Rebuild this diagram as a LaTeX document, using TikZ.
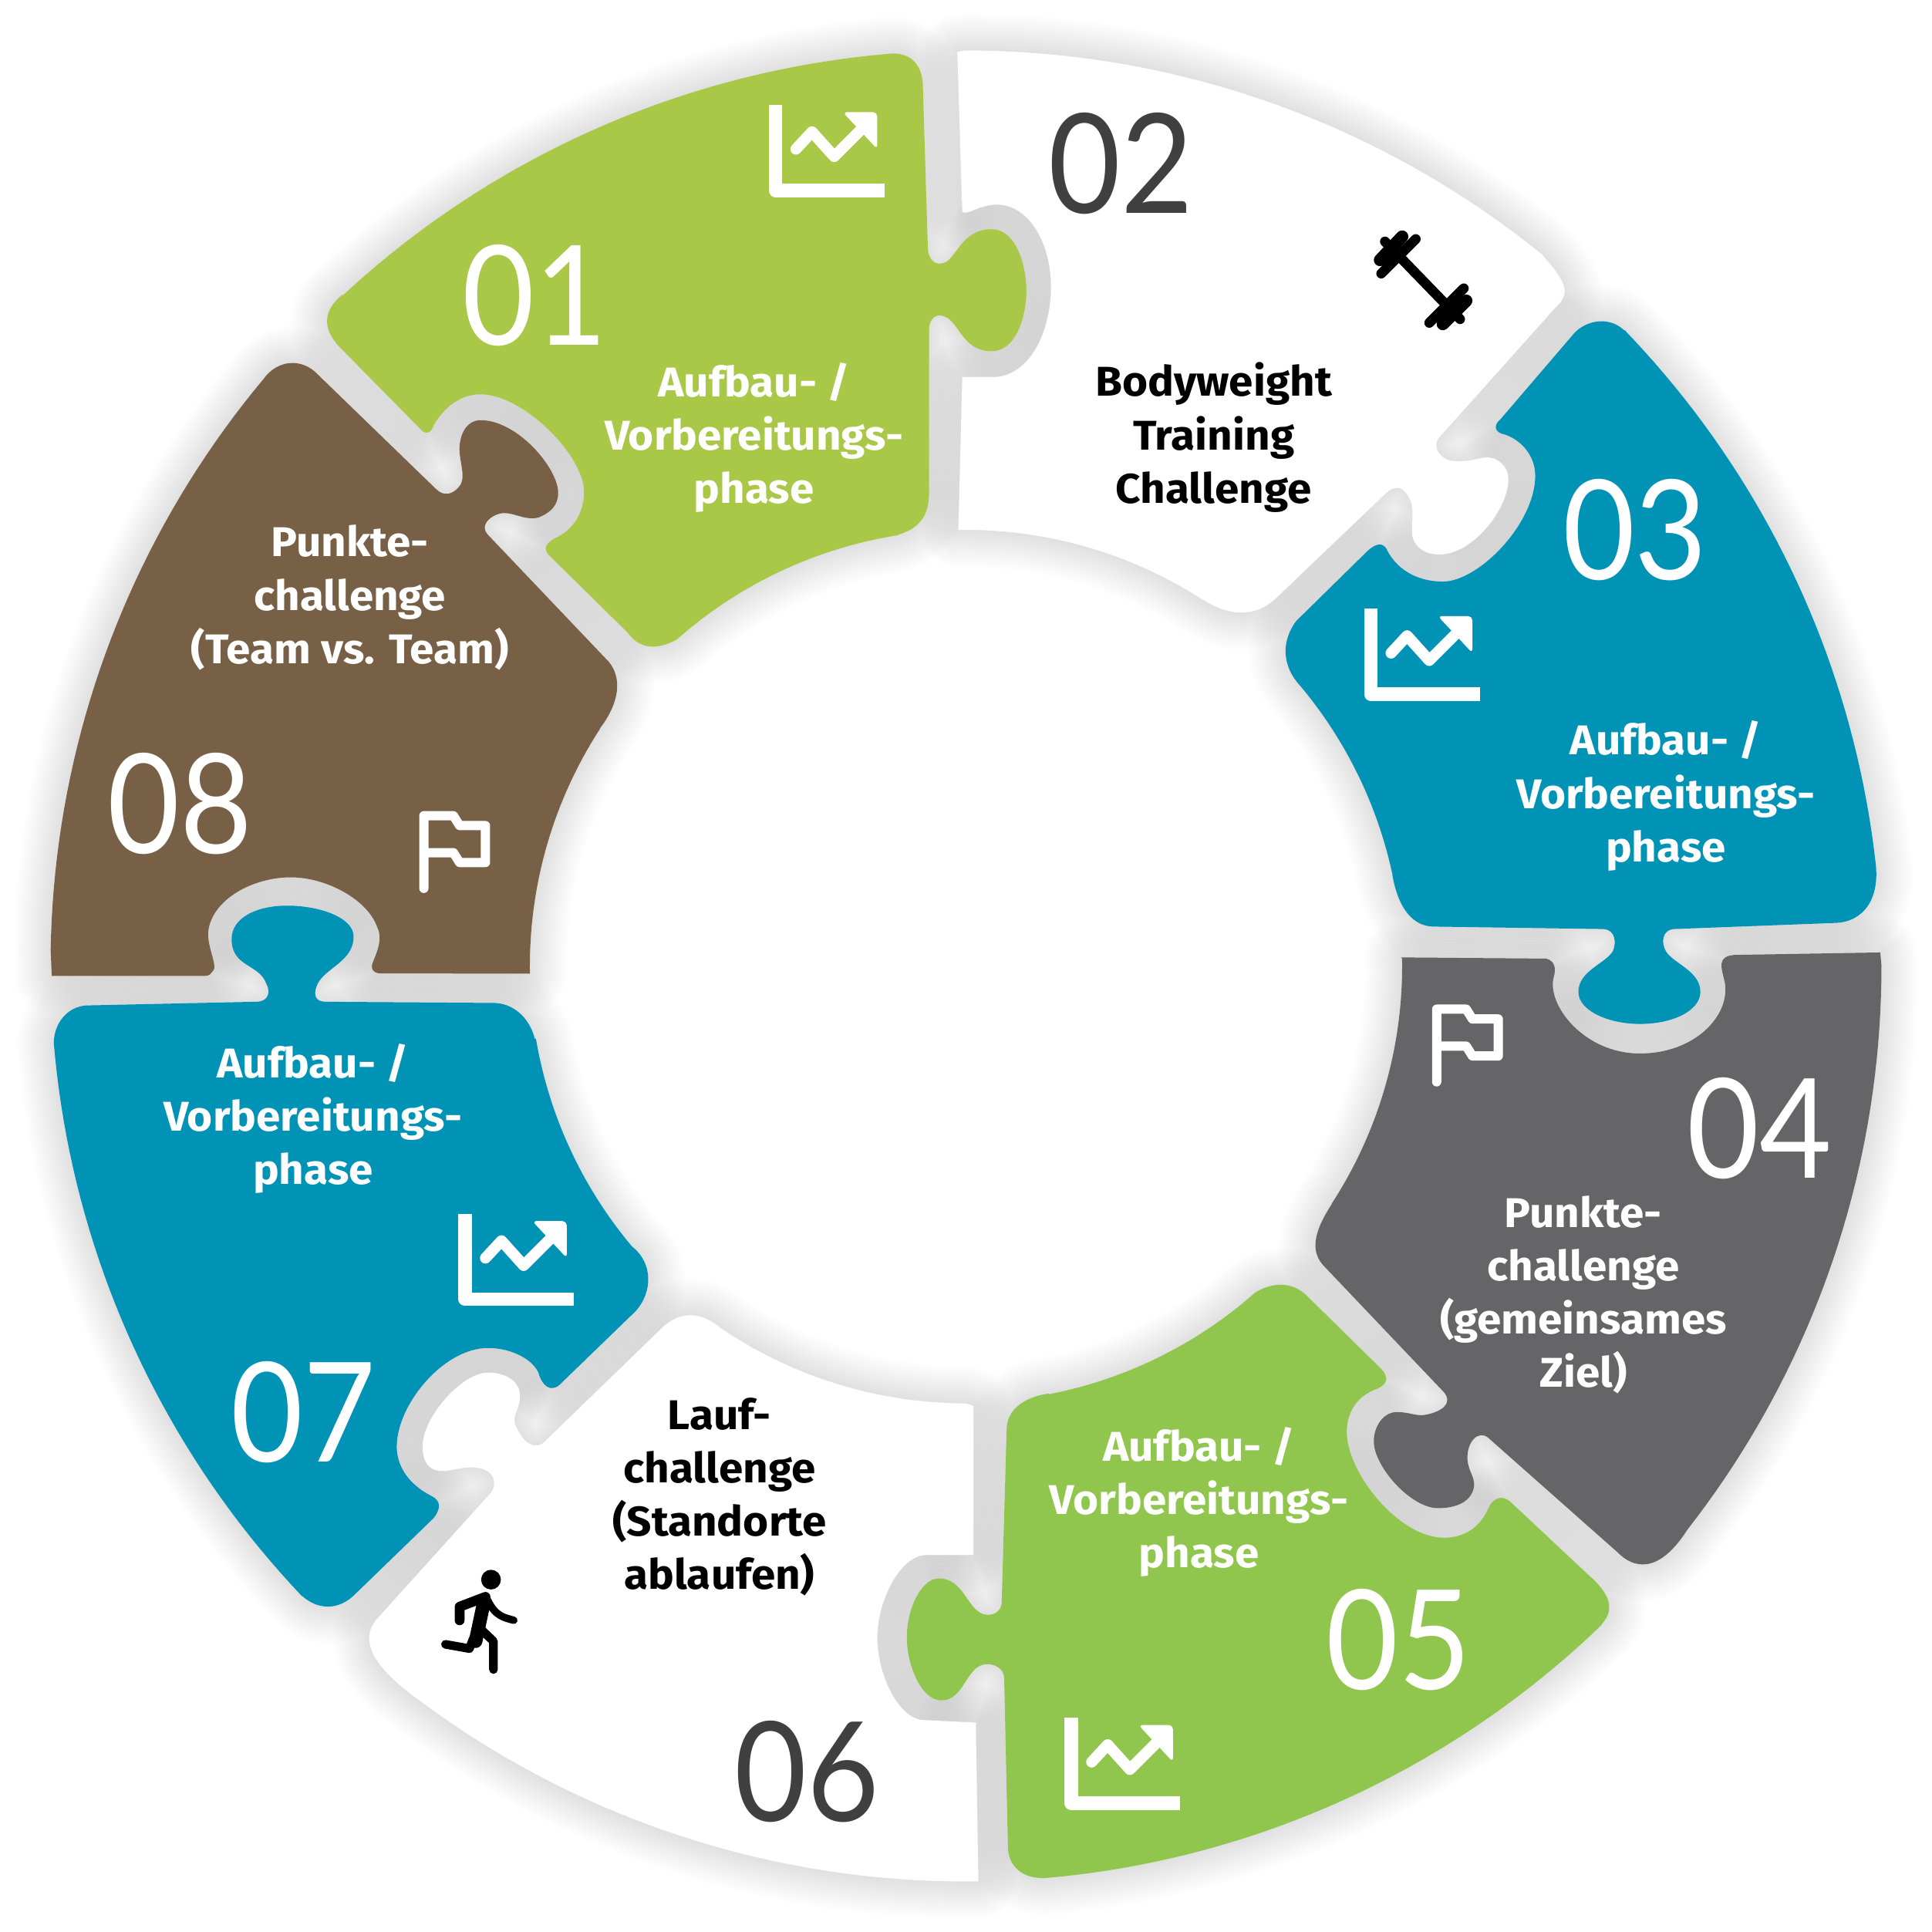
\documentclass[tikz,border=0pt]{standalone}
\usepackage{fontspec}
\setmainfont{Fira Sans}[FakeStretch=1.05]
\newfontfamily\numfont{Lato}[FakeStretch=0.9]
\usetikzlibrary{calc}
\definecolor{leafgreen}{RGB}{169,200,71}
\definecolor{grassgreen}{RGB}{144,198,77}
\definecolor{petrol}{RGB}{0,147,181}
\definecolor{slategrey}{RGB}{101,101,103}
\definecolor{earthbrown}{RGB}{120,96,70}
\newcommand\rim[3]{-- plot[domain=#2:#3,samples=40]({784+#1*cos(\x)},{784+#1*sin(\x)})}
\def\pieceone{(278,239) \rim{743}{227}{265}
  .. controls (738,41) and (749,52) .. (749,70)
  -- (753,200) .. controls (753,212) and (760,216) .. (767,213)
  .. controls (777,208) and (781,186) .. (805,186)
  .. controls (824,186) and (833,214) .. (833,236)
  .. controls (833,258) and (824,285) .. (805,285)
  .. controls (781,285) and (779,262) .. (767,257)
  .. controls (760,254) and (754,258) .. (754,268)
  -- (754,400) .. controls (754,420) and (745,429) .. (729,434)
  \rim{354}{261}{228.5}
  .. controls (535,527) and (520,528) .. (510,514)
  -- (445,450) .. controls (440,444) and (445,440) .. (450,437)
  .. controls (470,428) and (474,410) .. (474,399)
  .. controls (474,370) and (425,320) .. (390,320)
  .. controls (370,320) and (358,335) .. (352,345)
  .. controls (350,352) and (345,353) .. (341,348)
  -- (274,280) .. controls (262,266) and (262,252) .. (278,239) -- cycle}
\def\piecetwo{(777,42) \rim{743}{270}{309}
  .. controls (1272,230) and (1275,238) .. (1262,250)
  -- (1168,355) .. controls (1162,362) and (1168,372) .. (1178,374)
  .. controls (1195,376) and (1203,369) .. (1212,372)
  .. controls (1222,376) and (1225,384) .. (1224,392)
  .. controls (1222,415) and (1195,450) .. (1168,450)
  .. controls (1155,450) and (1146,442) .. (1146,432)
  .. controls (1146,420) and (1148,410) .. (1143,403)
  .. controls (1138,394) and (1132,394) .. (1125,400)
  -- (1035,486) .. controls (1022,498) and (1002,503) .. (977,487)
  \rim{354}{303}{269}
  -- (781,306) -- (806,306) .. controls (835,306) and (853,270) .. (853,233)
  .. controls (853,197) and (835,166) .. (809,166)
  .. controls (795,166) and (785,175) .. (781,172) -- cycle}
\def\piecethree{(1318,268) \rim{743}{316}{353.5}
  .. controls (1526,730) and (1512,748) .. (1490,749)
  -- (1358,754) .. controls (1349,755) and (1348,765) .. (1352,772)
  .. controls (1358,782) and (1380,788) .. (1380,805)
  .. controls (1380,820) and (1358,831) .. (1331,831)
  .. controls (1305,831) and (1281,820) .. (1281,805)
  .. controls (1281,788) and (1303,782) .. (1309,772)
  .. controls (1312,765) and (1311,755) .. (1302,754)
  -- (1164,752) .. controls (1147,752) and (1135,738) .. (1130,710)
  \rim{354}{348}{320}
  .. controls (1040,540) and (1040,520) .. (1052,504)
  -- (1110,447) .. controls (1118,440) and (1122,441) .. (1125,445)
  .. controls (1133,462) and (1150,472) .. (1171,472)
  .. controls (1200,472) and (1246,425) .. (1246,386)
  .. controls (1246,368) and (1232,355) .. (1219,352)
  .. controls (1213,350) and (1212,345) .. (1218,340)
  -- (1278,270) .. controls (1290,258) and (1308,258) .. (1318,268) -- cycle}
\def\piecefour{(1137,777) -- (1255,778)
  .. controls (1262,780) and (1263,786) .. (1261,793)
  .. controls (1255,815) and (1285,855) .. (1331,855)
  .. controls (1375,855) and (1404,825) .. (1400,798)
  .. controls (1397,785) and (1393,776) .. (1408,775)
  -- (1526,773) \rim{743}{0}{38}
  .. controls (1350,1272) and (1330,1277) .. (1313,1260)
  -- (1208,1167) .. controls (1200,1160) and (1190,1170) .. (1191,1185)
  .. controls (1192,1195) and (1198,1200) .. (1196,1208)
  .. controls (1193,1220) and (1180,1224) .. (1167,1224)
  .. controls (1145,1224) and (1115,1190) .. (1115,1170)
  .. controls (1115,1155) and (1125,1146) .. (1133,1146)
  .. controls (1145,1146) and (1150,1150) .. (1158,1148)
  .. controls (1168,1146) and (1180,1140) .. (1172,1130)
  -- (1075,1028) .. controls (1063,1016) and (1066,1000) .. (1081,977)
  \rim{354}{33}{-1} -- cycle}
\def\piecefive{(817,1160) .. controls (817,1145) and (830,1134) .. (851,1131)
  \rim{354}{79}{48.5}
  .. controls (1028,1043) and (1045,1038) .. (1059,1050)
  -- (1120,1110) .. controls (1128,1118) and (1126,1123) .. (1118,1127)
  .. controls (1100,1133) and (1093,1148) .. (1093,1162)
  .. controls (1093,1195) and (1135,1248) .. (1172,1248)
  .. controls (1190,1248) and (1202,1238) .. (1208,1224)
  .. controls (1211,1217) and (1218,1212) .. (1226,1219)
  -- (1289,1278) .. controls (1305,1292) and (1312,1305) .. (1300,1318)
  \rim{743}{46}{85}
  .. controls (830,1525) and (818,1515) .. (818,1498)
  -- (815,1362) .. controls (815,1354) and (806,1349) .. (798,1351)
  .. controls (784,1354) and (782,1380) .. (764,1380)
  .. controls (748,1380) and (736,1352) .. (736,1329)
  .. controls (736,1305) and (748,1281) .. (762,1281)
  .. controls (782,1281) and (785,1306) .. (798,1310)
  .. controls (806,1312) and (813,1308) .. (813,1300) -- cycle}
\def\piecesix{(794,1527) \rim{743}{89.2}{128}
  .. controls (310,1355) and (290,1335) .. (305,1315)
  -- (398,1212) .. controls (405,1203) and (400,1192) .. (386,1191)
  .. controls (372,1190) and (362,1196) .. (353,1193)
  .. controls (345,1190) and (343,1182) .. (343,1174)
  .. controls (343,1150) and (375,1114) .. (396,1114)
  .. controls (412,1114) and (422,1122) .. (422,1133)
  .. controls (422,1145) and (414,1150) .. (419,1158)
  .. controls (424,1170) and (433,1177) .. (441,1171)
  -- (535,1080) .. controls (548,1066) and (565,1062) .. (584,1077)
  \rim{355}{124.3}{90} -- (790,1141) -- (790,1262) -- (752,1262)
  .. controls (730,1262) and (712,1300) .. (712,1329)
  .. controls (712,1360) and (730,1396) .. (750,1396)
  -- (792,1398) -- cycle}
\def\pieceseven{(70,816) -- (208,813) .. controls (218,813) and (220,805) .. (216,798)
  .. controls (210,782) and (188,785) .. (188,762)
  .. controls (188,745) and (208,735) .. (233,735)
  .. controls (260,735) and (287,745) .. (287,760)
  .. controls (287,780) and (265,785) .. (258,798)
  .. controls (254,806) and (255,813) .. (264,813)
  -- (402,814) .. controls (420,815) and (431,830) .. (434,843)
  \rim{354}{170.4}{140}
  .. controls (530,1025) and (530,1048) .. (516,1064)
  -- (454,1124) .. controls (447,1130) and (440,1125) .. (437,1114)
  .. controls (432,1103) and (415,1094) .. (396,1094)
  .. controls (360,1094) and (322,1140) .. (322,1174)
  .. controls (322,1195) and (338,1208) .. (350,1214)
  .. controls (358,1218) and (358,1224) .. (352,1232)
  -- (288,1294) .. controls (275,1307) and (258,1307) .. (245,1295)
  \rim{743}{136.5}{175.2}
  .. controls (44,830) and (55,817) .. (70,816) -- cycle}
\def\pieceeight{(42,792) \rim{743}{181}{219.9}
  .. controls (225,292) and (245,290) .. (258,304)
  -- (354,397) .. controls (360,403) and (368,402) .. (374,393)
  .. controls (378,385) and (372,372) .. (373,362)
  .. controls (374,350) and (380,341) .. (390,341)
  .. controls (420,341) and (453,380) .. (453,400)
  .. controls (453,410) and (447,416) .. (437,420)
  .. controls (425,423) and (415,414) .. (405,417)
  .. controls (395,420) and (390,428) .. (396,434)
  -- (494,537) .. controls (505,550) and (503,570) .. (487,591)
  \rim{354}{213}{179}
  -- (309,790) .. controls (303,790) and (300,786) .. (303,780)
  .. controls (308,768) and (310,760) .. (306,752)
  .. controls (298,730) and (265,712) .. (236,712)
  .. controls (205,712) and (172,730) .. (169,756)
  .. controls (168,770) and (178,785) .. (172,789)
  .. controls (170,792) and (168,792) .. (165,792) -- cycle}
\begin{document}
\begin{tikzpicture}[x=0.01cm,y=-0.01cm,
  label/.style={font=\fontsize{9.6}{12.3}\selectfont\bfseries,align=center},
  count/.style={font=\fontsize{32}{32}\selectfont\numfont},
  axisline/.style={draw=white,line width=0.11cm,line join=round},
  zigzag/.style={draw=white,line width=0.09cm,line join=round,line cap=round},
  flagline/.style={draw=white,line width=0.075cm,line join=round,line cap=round},
  iconline/.style={draw=black,line cap=round,line join=round},
  pics/chart/.style={code={
    \draw[axisline] (5.5,0) -- (5.5,69.5) -- (94,69.5);
    \draw[zigzag] (22,36) -- (35,22) -- (53,42) -- (76,19);
    \fill[white,rounded corners=1pt] (60,6) -- (88,6) -- (88,36) -- cycle;
  }},
  pics/flag/.style={code={
    \draw[flagline] (4,63) -- (4,4) -- (28,4) -- (33,12) -- (54,12) -- (54,42)
      -- (33,42) -- (28,34) -- (4,34);
  }},
]
\useasboundingbox (0,0) rectangle (1568,1568);
% ---- soft shadow under all pieces ----
\foreach \wd in {0.04,0.08,...,0.61}{
  \foreach \piece in {\pieceone,\piecetwo,\piecethree,\piecefour,\piecefive,\piecesix,\pieceseven,\pieceeight}{
    \draw[black,opacity=0.0085,line width=\wd cm,line join=round] \piece;
  }
}
% ---- puzzle pieces ----
\foreach \piece/\col in {\pieceone/leafgreen,\piecetwo/white,\piecethree/petrol,\piecefour/slategrey,
  \piecefive/grassgreen,\piecesix/white,\pieceseven/petrol,\pieceeight/earthbrown}{
  \fill[\col] \piece;
}
% ---- numbers ----
\foreach \id/\px/\py/\col in {01/434/240/white,02/910/133/black!75,03/1327/430/white,04/1428/916/white,
  05/1135/1331/white,06/655/1438/black!75,07/246/1146/white,08/146/652/white}{
  \node[count,text=\col] (n\id) at (\px,\py) {\id};
}
% ---- labels ----
\node[label,text=white] (textone) at (612,355) {Aufbau- /\\Vorbereitungs-\\phase};
\node[label,text=black] (texttwo) at (985,355) {Bodyweight\\Training\\Challenge};
\node[label,text=white] (textthree) at (1352,646) {Aufbau- /\\Vorbereitungs-\\phase};
\node[label,text=white] (textfour) at (1285,1051) {Punkte-\\challenge\\(gemeinsames\\Ziel)};
\node[label,text=white] (textfive) at (973,1219) {Aufbau- /\\Vorbereitungs-\\phase};
\node[label,text=black] (textsix) at (584,1215) {Lauf-\\challenge\\(Standorte\\ablaufen)};
\node[label,text=white] (textseven) at (254,908) {Aufbau- /\\Vorbereitungs-\\phase};
\node[label,text=white] (texteight) at (284,485) {Punkte-\\challenge\\(Team vs. Team)};
% ---- icons ----
\foreach \px/\py in {624/85,1107/494,864/1394,372/985}{
  \pic at (\px,\py) {chart};
}
\foreach \px/\py in {340/658,1162/815}{
  \pic at (\px,\py) {flag};
}
% dumbbell
\draw[iconline,line width=0.08cm] (1124,196) -- (1185,259);
\draw[iconline,line width=0.08cm] (1121,222) -- (1149,194);
\draw[iconline,line width=0.1cm] (1120,211) -- (1138,192);
\draw[iconline,line width=0.08cm] (1160,262) -- (1188,234);
\draw[iconline,line width=0.1cm] (1171,263) -- (1190,244);
% runner
\fill (398.5,1282) circle[radius=8];
\draw[iconline,line width=0.08cm] (373,1315) -- (373,1304) -- (394,1296);
\draw[iconline,line width=0.11cm] (393,1299) -- (386,1332);
\draw[iconline,line width=0.06cm] (396,1299) .. controls (402,1312) and (410,1313) .. (417,1315);
\draw[iconline,line width=0.07cm] (384,1330) -- (381,1338) -- (361.5,1334.5);
\draw[iconline,line width=0.07cm] (390,1322) -- (400.5,1332) -- (400.5,1355);
\end{tikzpicture}
\end{document}
